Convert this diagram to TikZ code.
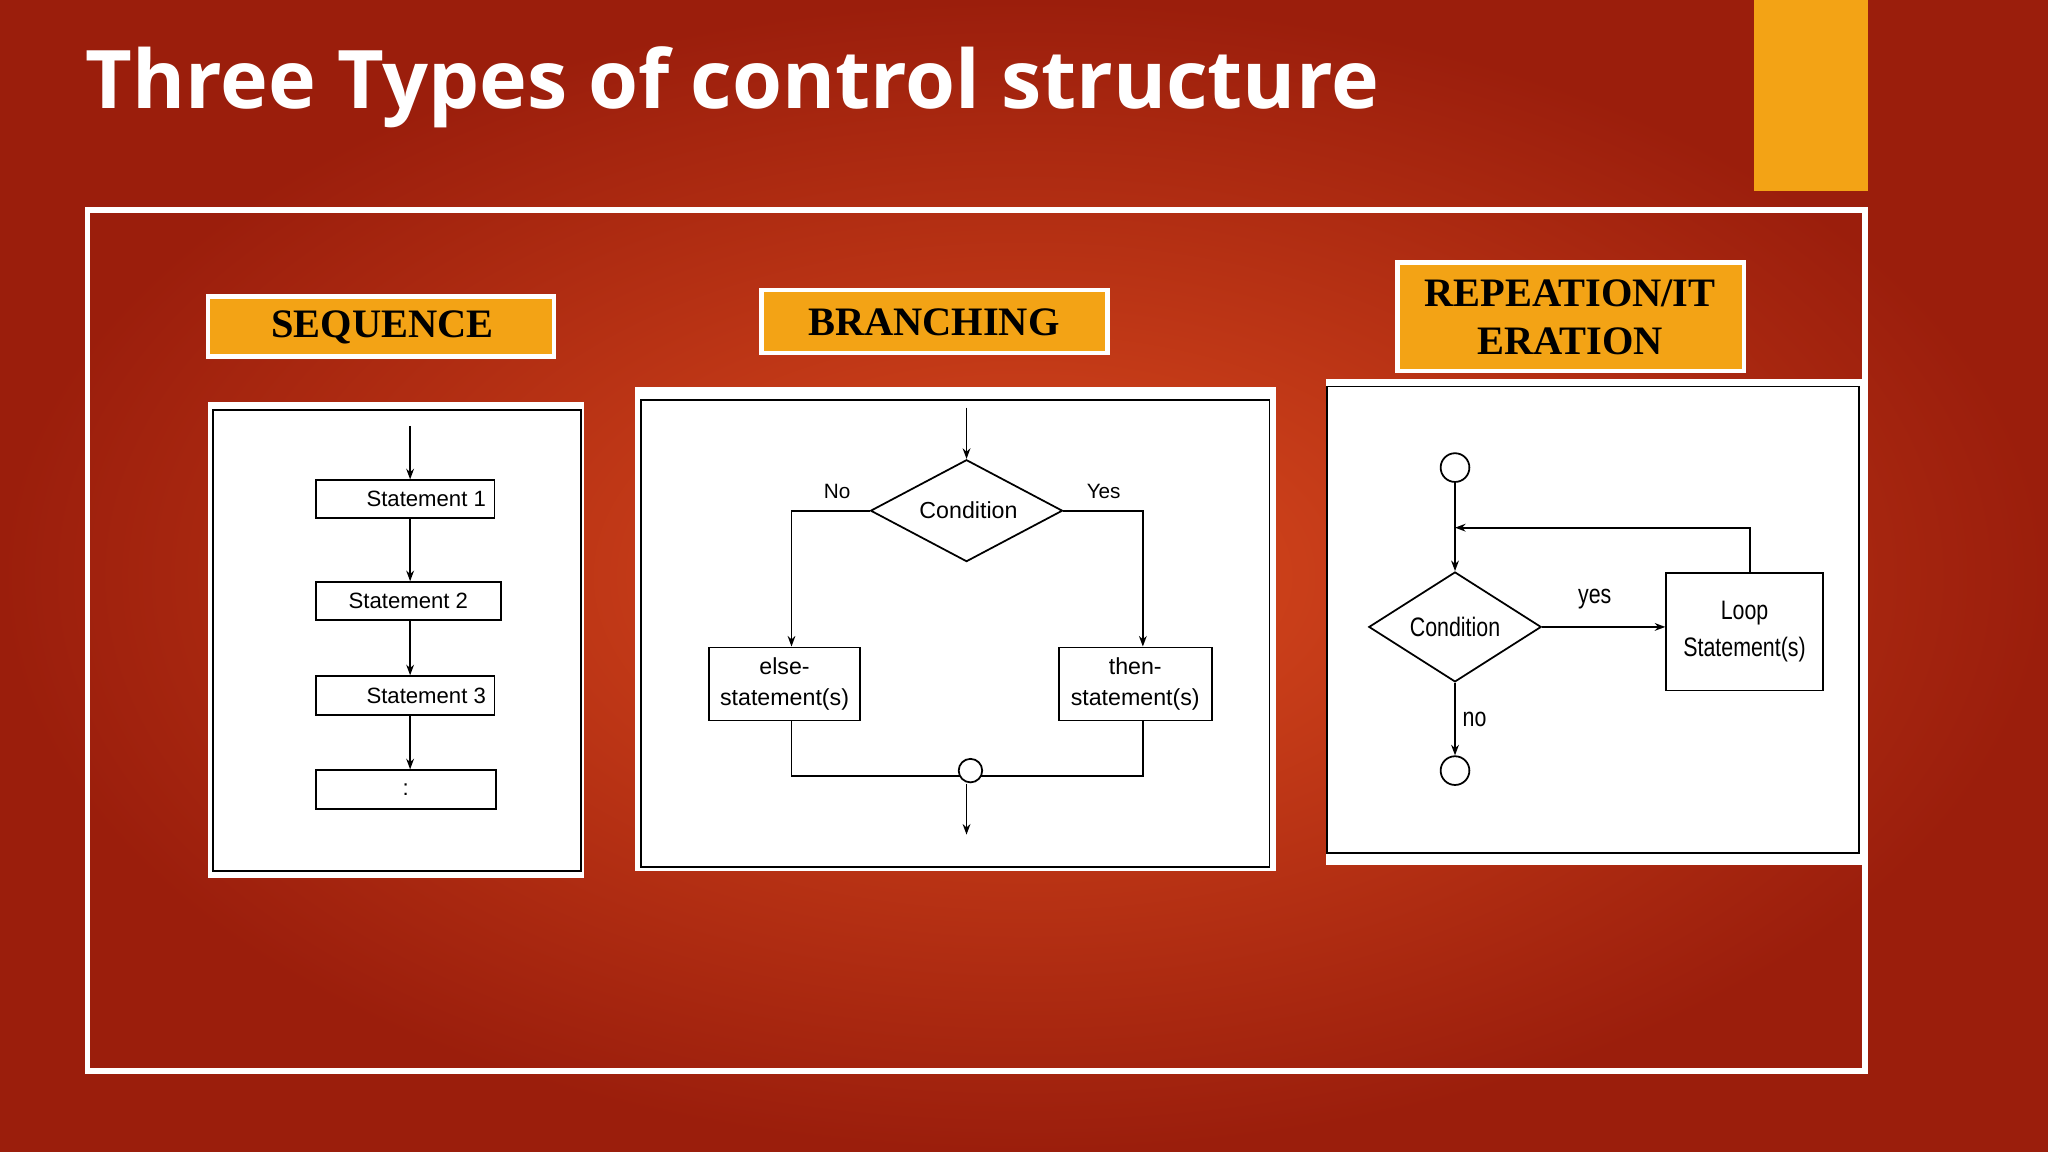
\documentclass[tikz,border=0pt]{standalone}
\usepackage{fontspec}
\setmainfont{Liberation Serif}
\newfontfamily\titlefont{Open Sans}
\newfontfamily\arial{Liberation Sans}
\usetikzlibrary{shapes.geometric,arrows.meta}
\definecolor{bgin}{RGB}{218,74,30}
\definecolor{bgout}{RGB}{155,30,12}
\definecolor{gold}{RGB}{243,163,21}
\tikzset{
 lbl/.style={font=\bfseries\fontsize{11.5}{13.5}\selectfont,align=center,inner sep=0pt},
 sbox/.style={draw,line width=0.5pt,fill=white,font=\arial\fontsize{6.3}{7.5}\selectfont,inner sep=0pt,align=center},
 cond/.style={diamond,draw,line width=0.5pt,inner sep=0pt,font=\arial\fontsize{6.6}{7.5}\selectfont},
 ln/.style={line width=0.5pt},
 ar/.style={line width=0.5pt,-{Stealth[length=3pt,width=2.2pt]}},
 txt/.style={font=\arial\fontsize{5.9}{7}\selectfont,inner sep=0pt},
 circ/.style={circle,draw,line width=0.5pt,fill=white,inner sep=0pt}
}
\begin{document}
\begin{tikzpicture}[x=0.013061cm,y=-0.013061cm]
\useasboundingbox (0,0) rectangle (1568,882);
\shade[inner color=bgin,outer color=bgout] (0,0) rectangle (1568,882);
\fill[gold] (1343,0) rectangle (1430,146);
\node[anchor=west,text=white,font=\titlefont\bfseries\fontsize{23}{25}\selectfont,inner sep=0pt] (title) at (65,67) {Three Types of control structure};
\draw[white,line width=1.6pt] (67,161) rectangle (1428,820);
% labels
\draw[white,line width=1.2pt,fill=gold] (159,227) rectangle (424,273);
\node[lbl] (seq) at (293,251) {SEQUENCE};
\draw[white,line width=1.2pt,fill=gold] (583,222) rectangle (848,270);
\node[lbl] (br) at (715,247) {BRANCHING};
\draw[white,line width=1.2pt,fill=gold] (1070,201) rectangle (1335,284);
\node[lbl] (rep) at (1202,243) {REPEATION/IT\\ERATION};
% sequence panel
\fill[white] (159,308) rectangle (447,672);
\draw[ln] (163,314) rectangle (445,667);
\coordinate (s0) at (314,326);
\node[sbox,anchor=north west,minimum width=137*0.013061cm,minimum height=29*0.013061cm] (a1) at (241,367) {\hspace*{12pt}Statement 1};
\node[sbox,anchor=north west,minimum width=142*0.013061cm,minimum height=29*0.013061cm] (a2) at (241,445) {Statement 2};
\node[sbox,anchor=north west,minimum width=137*0.013061cm,minimum height=30*0.013061cm] (a3) at (241,517) {\hspace*{12pt}Statement 3};
\node[sbox,anchor=north west,minimum width=138*0.013061cm,minimum height=30*0.013061cm] (a4) at (241,589) {:};
\draw[ar] (s0) -- (a1.north -| s0);
\draw[ar] (a1.south -| s0) -- (a2.north -| s0);
\draw[ar] (a2.south -| s0) -- (a3.north -| s0);
\draw[ar] (a3.south -| s0) -- (a4.north -| s0);
% branching panel
\fill[white] (486,296) rectangle (977,667);
\draw[ln] (491,306) rectangle (972,664);
\coordinate (b0) at (740,312);
\node[cond,aspect=1.9,minimum width=147*0.013061cm,minimum height=78*0.013061cm] (bc) at (740,391) {\,Condition};
\draw[ar] (b0) -- (bc.north);
\node[sbox,anchor=north west,minimum width=116*0.013061cm,minimum height=56*0.013061cm,font=\arial\fontsize{6.6}{8.6}\selectfont] (els) at (542,495) {else-\\statement(s)};
\node[sbox,anchor=north west,minimum width=117*0.013061cm,minimum height=56*0.013061cm,font=\arial\fontsize{6.6}{8.6}\selectfont] (thn) at (810,495) {then-\\statement(s)};
\coordinate (ex) at (606,0);
\coordinate (tx) at (875,0);
\draw[ar] (bc.west) -- (bc.west -| ex) -- (els.north -| ex);
\draw[ar] (bc.east) -- (bc.east -| tx) -- (thn.north -| tx);
\node[txt] (no1) at (641,376) {No};
\node[txt] (yes1) at (845,376) {Yes};
\node[circ,minimum size=18*0.013061cm] (jc) at (743,590) {};
\coordinate (jl) at (735,594);
\coordinate (jr) at (751,594);
\draw[ln] (els.south -| ex) -- (606,594) -- (jl);
\draw[ln] (thn.south -| tx) -- (875,594) -- (jr);
\coordinate (bend) at (740,639);
\draw[ar] (740,600) -- (bend);
% repetition panel
\fill[white] (1015,290) rectangle (1428,662);
\draw[ln] (1016,296) rectangle (1423,653);
\node[circ,minimum size=22*0.013061cm] (c1) at (1114,358) {};
\node[cond,minimum width=132*0.013061cm,minimum height=83*0.013061cm,font=\arial\fontsize{7.6}{8}\selectfont] (rc) at (1114,480) {\scalebox{0.8}[1]{Condition}\hspace{6pt}};
\node[sbox,anchor=north west,minimum width=120*0.013061cm,minimum height=90*0.013061cm,font=\arial\fontsize{7.6}{10.5}\selectfont] (loop) at (1275,438) {\scalebox{0.8}[1]{Loop}\\\scalebox{0.8}[1]{Statement(s)}};
\node[circ,minimum size=22*0.013061cm] (c2) at (1114,590) {};
\draw[ar] (c1.south) -- (rc.north);
\draw[ar] (rc.east) -- (loop.west |- rc.east);
\draw[ar] (loop.north -| 1340,0) -- (1340,404) -- (1114,404);
\draw[ar] (rc.south) -- (c2.north);
\node[txt,font=\arial\fontsize{7.6}{8}\selectfont] (yes2) at (1221,459) {\scalebox{0.8}[1]{yes}};
\node[txt,font=\arial\fontsize{7.6}{8}\selectfont] (no2) at (1129,551) {\scalebox{0.8}[1]{no}};
\end{tikzpicture}
\end{document}
